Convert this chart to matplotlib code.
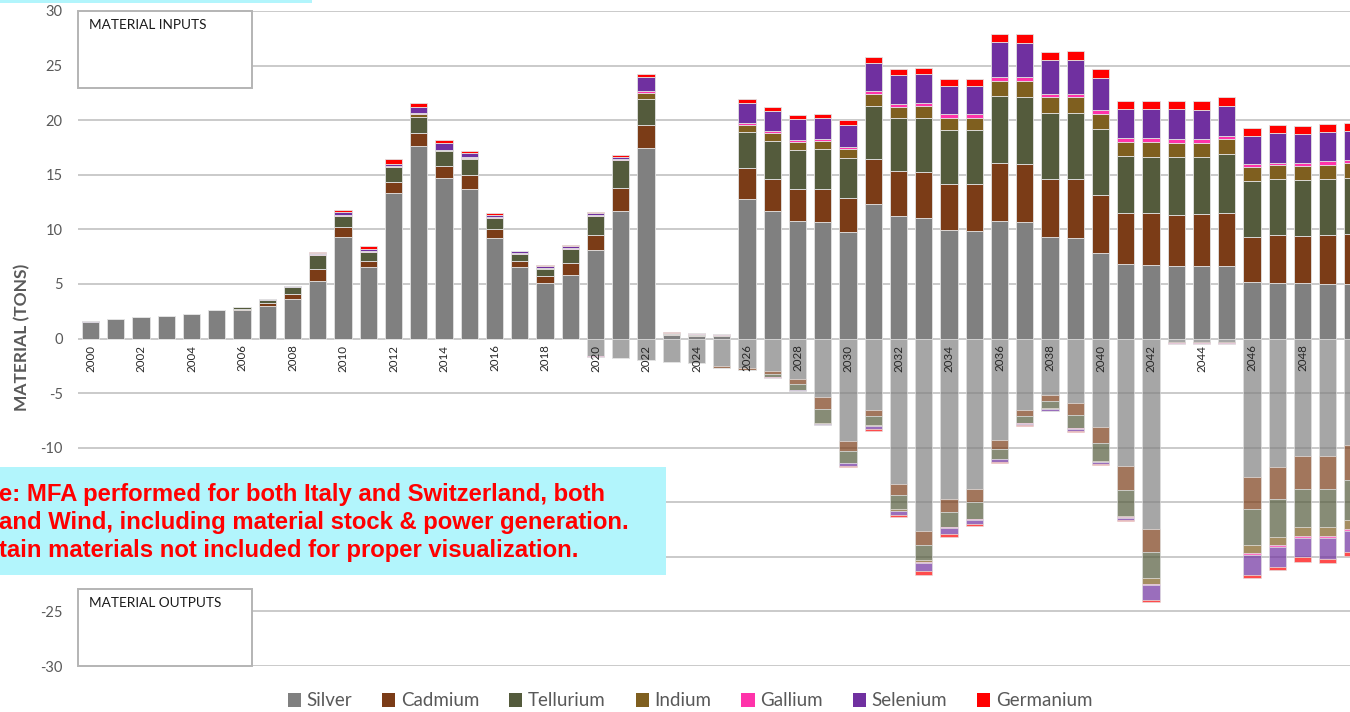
import numpy as np
import matplotlib
matplotlib.use("Agg")
import matplotlib.pyplot as plt
from matplotlib.patches import Rectangle, Patch

plt.rcParams['font.family'] = ['Lato', 'DejaVu Sans']

# -------------------------------
# DATA (tons per year)
# -------------------------------
years = list(range(2000, 2051))
materials = ["Silver", "Cadmium", "Tellurium", "Indium", "Gallium", "Selenium", "Germanium"]
colors = ["#808080", "#7B3C17", "#545B3C", "#7F5F1F", "#FF33AA", "#7030A0", "#FF0000"]

# material inputs (positive)
silver_in = [1.5, 1.8, 1.97, 2.08, 2.2, 2.62, 2.6, 3.0, 3.66, 5.28,
             9.33, 6.56, 13.3, 17.63, 14.7, 13.72, 9.24, 6.56, 5.12, 5.83,
             8.14, 11.66, 17.45, 0.3, 0.22, 0.2, 12.75, 11.71, 10.77, 10.71,
             9.73, 12.35, 11.2, 11.07, 9.95, 9.85, 10.74, 10.68, 9.3, 9.24,
             7.81, 6.81, 6.74, 6.68, 6.68, 6.62, 5.16, 5.07, 5.07, 5.0, 5.0]
cadmium_in = [0, 0, 0, 0, 0.03, 0, 0.12, 0.24, 0.46, 1.1,
              0.89, 0.55, 1.07, 1.16, 1.13, 1.23, 0.8, 0.55, 0.64, 1.1,
              1.38, 2.16, 2.07, 0.13, 0.1, 0.1, 2.84, 2.9, 2.95, 3.01,
              3.12, 4.12, 4.11, 4.18, 4.23, 4.28, 5.33, 5.33, 5.28, 5.34,
              5.31, 4.66, 4.73, 4.64, 4.73, 4.85, 4.17, 4.42, 4.35, 4.49, 4.55]
tellurium_in = [0, 0, 0, 0, 0.06, 0, 0.13, 0.3, 0.58, 1.31,
                1.03, 0.82, 1.31, 1.52, 1.34, 1.52, 0.97, 0.64, 0.64, 1.27,
                1.68, 2.5, 2.41, 0.05, 0.05, 0.05, 3.32, 3.48, 3.54, 3.61,
                3.71, 4.79, 4.85, 4.91, 4.91, 4.96, 6.13, 6.08, 6.1, 6.04,
                6.04, 5.27, 5.18, 5.3, 5.24, 5.46, 5.1, 5.12, 5.13, 5.12, 5.15]
indium_in = [0, 0, 0, 0, 0, 0, 0, 0, 0.02, 0,
             0, 0, 0.05, 0.24, 0.08, 0.09, 0.05, 0.03, 0.03, 0.03,
             0.05, 0.05, 0.52, 0, 0, 0, 0.61, 0.76, 0.76, 0.76,
             0.8, 1.16, 1.07, 1.16, 1.13, 1.13, 1.38, 1.49, 1.41, 1.47,
             1.43, 1.28, 1.35, 1.31, 1.28, 1.34, 1.28, 1.25, 1.28, 1.31, 1.35]
gallium_in = [0.05, 0, 0, 0, 0, 0, 0, 0.03, 0.02, 0.06,
              0.1, 0.05, 0.1, 0.1, 0.05, 0.07, 0.06, 0.05, 0.06, 0.05,
              0.05, 0.05, 0.21, 0.05, 0.1, 0.08, 0.24, 0.18, 0.19, 0.18,
              0.18, 0.24, 0.21, 0.22, 0.31, 0.31, 0.39, 0.34, 0.33, 0.33,
              0.31, 0.31, 0.33, 0.34, 0.34, 0.28, 0.27, 0.21, 0.24, 0.31, 0.3]
selenium_in = [0.05, 0, 0, 0, 0, 0, 0, 0.04, 0.03, 0.12,
               0.25, 0.22, 0.2, 0.55, 0.58, 0.33, 0.2, 0.14, 0.14, 0.19,
               0.17, 0.23, 1.25, 0, 0, 0, 1.8, 1.8, 1.86, 1.89,
               2.01, 2.59, 2.66, 2.65, 2.59, 2.62, 3.15, 3.17, 3.05, 3.05,
               2.92, 2.69, 2.66, 2.75, 2.68, 2.77, 2.57, 2.72, 2.66, 2.71, 2.65]
germanium_in = [0.02, 0, 0, 0, 0, 0, 0, 0.02, 0.07, 0.05,
                0.17, 0.28, 0.37, 0.4, 0.27, 0.21, 0.15, 0.05, 0.11, 0.1,
                0.13, 0.13, 0.31, 0.05, 0.02, 0.02, 0.37, 0.4, 0.4, 0.43,
                0.43, 0.55, 0.55, 0.61, 0.61, 0.64, 0.76, 0.79, 0.82, 0.88,
                0.83, 0.75, 0.73, 0.73, 0.77, 0.77, 0.73, 0.73, 0.73, 0.73, 0.76]

# material outputs (drawn below zero)
silver_out = [0, 0, 0, 0, 0, 0, 0, 0, 0, 0,
              0, 0, 0, 0, 0, 0, 0, 0, 0, 0,
              1.6, 1.83, 1.96, 2.17, 2.22, 2.51, 2.66, 2.96, 3.73, 5.33,
              9.39, 6.53, 13.3, 17.66, 14.73, 13.75, 9.27, 6.53, 5.15, 5.91,
              8.14, 11.65, 17.41, 0.3, 0.3, 0.3, 12.68, 11.74, 10.76, 10.73, 9.75]
cadmium_out = [0, 0, 0, 0, 0, 0, 0, 0, 0, 0,
               0, 0, 0, 0, 0, 0, 0, 0, 0, 0,
               0, 0, 0, 0, 0.05, 0.15, 0.2, 0.27, 0.43, 1.16,
               0.92, 0.61, 1.06, 1.22, 1.13, 1.25, 0.82, 0.54, 0.61, 1.07,
               1.46, 2.19, 2.17, 0.1, 0.1, 0.1, 2.93, 2.96, 3.02, 3.05, 3.18]
tellurium_out = [0, 0, 0, 0, 0, 0, 0, 0, 0, 0,
                 0, 0, 0, 0, 0, 0, 0, 0, 0, 0,
                 0, 0, 0, 0, 0, 0, 0.04, 0.27, 0.53, 1.28,
                 1.06, 0.8, 1.22, 1.37, 1.4, 1.53, 0.91, 0.67, 0.64, 1.22,
                 1.65, 2.38, 2.34, 0.05, 0.05, 0.05, 3.27, 3.44, 3.51, 3.51, 3.66]
indium_out = [0, 0, 0, 0, 0, 0, 0, 0, 0, 0,
              0, 0, 0, 0, 0, 0, 0, 0, 0, 0,
              0, 0, 0, 0, 0, 0, 0, 0.02, 0.02, 0.03,
              0.05, 0.07, 0.18, 0.25, 0.04, 0.04, 0.04, 0.03, 0.03, 0.03,
              0.03, 0.15, 0.55, 0, 0, 0, 0.76, 0.74, 0.76, 0.83, 0.82]
gallium_out = [0, 0, 0, 0, 0, 0, 0, 0, 0, 0,
               0, 0, 0, 0, 0, 0, 0, 0, 0, 0,
               0.05, 0, 0, 0, 0, 0, 0, 0.08, 0.05, 0.03,
               0.03, 0.05, 0.07, 0.1, 0.07, 0.06, 0.03, 0.03, 0.03, 0.05,
               0.05, 0.05, 0.13, 0.04, 0.04, 0.04, 0.18, 0.18, 0.18, 0.18, 0.19]
selenium_out = [0, 0, 0, 0, 0, 0, 0, 0, 0, 0,
                0, 0, 0, 0, 0, 0, 0, 0, 0, 0,
                0, 0, 0, 0, 0, 0, 0, 0.03, 0.02, 0.07,
                0.19, 0.21, 0.31, 0.7, 0.5, 0.37, 0.23, 0.16, 0.14, 0.17,
                0.17, 0.2, 1.37, 0, 0, 0, 1.8, 1.86, 1.81, 1.88, 1.94]
germanium_out = [0, 0, 0, 0, 0, 0, 0, 0, 0, 0,
                 0, 0, 0, 0, 0, 0, 0, 0, 0, 0,
                 0.03, 0, 0, 0, 0.02, 0, 0, 0.03, 0.02, 0.02,
                 0.09, 0.18, 0.21, 0.35, 0.27, 0.2, 0.1, 0.09, 0.08, 0.12,
                 0.12, 0.12, 0.18, 0.02, 0.02, 0.02, 0.34, 0.33, 0.39, 0.43, 0.41]

inputs = [silver_in, cadmium_in, tellurium_in, indium_in, gallium_in, selenium_in, germanium_in]
outputs = [silver_out, cadmium_out, tellurium_out, indium_out, gallium_out, selenium_out, germanium_out]

# y tick labels (-15 and -20 sit under the note box in the original)
ytick_vals = [30, 25, 20, 15, 10, 5, 0, -5, -10, -15, -20, -25, -30]
ytick_labels = ["30", "25", "20", "15", "10", "5", "0", "-5", "-10", "", "", "-25", "-30"]
year_labels = years[0:50:2]  # 2000 .. 2048

note_lines = ["e: MFA performed for both Italy and Switzerland, both",
              "and Wind, including material stock & power generation.",
              "tain materials not included for proper visualization."]

# -------------------------------
# PLOT
# -------------------------------
W, H = 1350, 712
fig = plt.figure(figsize=(W / 100, H / 100), dpi=100)
ax = fig.add_axes([78 / W, 1 - 666 / H, (W - 78) / W, 655 / H])

x = np.array(years, dtype=float)
bw = 0.68
edge = "#e2e2e2"

bottom = np.zeros(len(years))
for vals, c in zip(inputs, colors):
    v = np.array(vals)
    ax.bar(x, v, bw, bottom=bottom, color=c, edgecolor=edge, linewidth=0.6, zorder=2)
    bottom += v

bottom = np.zeros(len(years))
for vals, c in zip(outputs, colors):
    v = -np.array(vals)
    ax.bar(x, v, bw, bottom=bottom, color=c, alpha=0.7, edgecolor=edge, linewidth=0.6, zorder=2)
    bottom += v

ax.set_xlim(1999.505, 2049.88)
ax.set_ylim(-30, 30)
ax.set_yticks(ytick_vals)
ax.set_yticklabels(ytick_labels)
ax.tick_params(axis='y', length=0, pad=11, labelsize=10.5, labelcolor="#595959")
ax.set_xticks([])
ax.grid(axis='y', color="#c6c6c6", linewidth=1.3, zorder=0)
ax.set_axisbelow(True)
for s in ax.spines.values():
    s.set_visible(False)

# year labels inside the plot, just below zero
for yr in year_labels:
    ax.text(yr, -0.55, str(yr), rotation=90, ha='center', va='top',
            fontsize=8.3, color="#262626", zorder=3)

fig.text(22 / W, 1 - 337 / H, "MATERIAL (TONS)", rotation=90, ha='center', va='center',
         fontsize=12.5, fontweight='bold', color="#595959")

# input / output label boxes
for (y0, txt) in [(1 - 77 / 655, "MATERIAL INPUTS"), (0, "MATERIAL OUTPUTS")]:
    ax.add_patch(Rectangle((0, y0), 174 / 1272, 77 / 655, transform=ax.transAxes,
                           facecolor="white", edgecolor="#b4b4b4", linewidth=1.4,
                           zorder=4, clip_on=False))
    ax.text(11 / 1272, y0 + 63 / 655, txt, transform=ax.transAxes, ha='left', va='center',
            fontsize=9.8, color="#1a1a1a", zorder=5)

# cyan note box and strip
fig.patches.append(Rectangle((0, 1 - 575 / H), 666 / W, 108 / H, transform=fig.transFigure,
                             facecolor="#B2F5FC", edgecolor="none", zorder=5))
fig.patches.append(Rectangle((0, 1 - 3 / H), 312 / W, 3 / H, transform=fig.transFigure,
                             facecolor="#B2F5FC", edgecolor="none", zorder=5))
for i, line in enumerate(note_lines):
    fig.text(-1 / W, 1 - (494 + 28 * i) / H, line, ha='left', va='center',
             fontsize=17.2, fontweight='bold', color="#FF0000",
             family=['Liberation Sans', 'DejaVu Sans'], zorder=6)

handles = [Patch(facecolor=c, edgecolor='none') for c in colors]
fig.legend(handles, materials, loc='center', bbox_to_anchor=(690 / W, 1 - 701 / H),
           ncol=7, frameon=False, fontsize=13.5, handlelength=0.7, handleheight=0.7,
           handletextpad=0.3, columnspacing=1.6, labelcolor="#595959")

fig.savefig("out.png", dpi=100)
